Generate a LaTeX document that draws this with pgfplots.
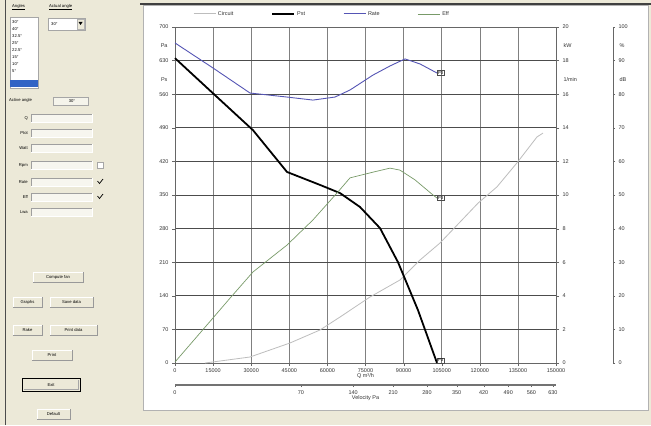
\documentclass[border=0pt]{standalone}
\usepackage{pgfplots}
\pgfplotsset{compat=1.18}
\usepackage{fontspec}
\setmainfont{Liberation Sans}
\definecolor{uibg}{HTML}{ECE9D8}
\definecolor{bluec}{HTML}{5555B5}
\definecolor{greenc}{HTML}{789A68}
\definecolor{greyc}{HTML}{BDBDBD}
\definecolor{hilite}{HTML}{3163C5}
\newcommand\tl{\fontsize{5.5}{6.5}\selectfont}
\newcommand\ui{\fontsize{4.2}{4.7}\selectfont}
\begin{document}
\begin{tikzpicture}[x=1bp,y=1bp]
\useasboundingbox (0,0) rectangle (651,425);
\fill[uibg] (0,0) rectangle (651,425);
% chart panel
\fill[white] (143,15) rectangle (648,420);
\draw[gray!60, line width=1] (143,15) rectangle (648,420);
\draw[black!75, line width=1.5] (140,421) -- (651,421);
\draw[black!70, line width=1] (5,0) -- (5,425);
% ---------- left control panel ----------
\node[font=\ui, anchor=west, inner sep=0] at (12,418) {\underline{Angles}};
\node[font=\ui, anchor=west, inner sep=0] at (49,418) {\underline{Actual angle}};
\draw[gray!70, fill=white] (10,337) rectangle (38,408);
\foreach \t [count=\i] in {30°,40°,32.5°,25°,22.5°,15°,10°,5°}
  \node[font=\ui, anchor=west, inner sep=0] at (12,410-7*\i) {\t};
\fill[hilite] (10,338) rectangle (38,345);
\draw[gray!70, fill=white] (48,395) rectangle (85,407);
\node[font=\ui, anchor=west, inner sep=0] at (51,401) {30°};
\draw[gray!60, fill=uibg] (77,396) rectangle (84,406);
\fill[black] (78.5,403) -- (82.5,403) -- (80.5,400) -- cycle;
\node[font=\ui, anchor=west, inner sep=0] at (9,325) {Active angle};
\draw[gray!70, fill=uibg!50!white] (53,320) rectangle (88,328);
\node[font=\ui, inner sep=0] at (72,324) {30°};
\foreach \t/\yy in {Q/307,Ptot/292,Watt/277,Rpm/260,Rate/243,Eff/228,Lwa/213}{
  \node[font=\ui, anchor=east, inner sep=0] at (28,\yy) {\t};
  \fill[uibg!40!white] (31,\yy-4) rectangle (92,\yy+4);
  \draw[gray!75] (31,\yy-4) -- (31,\yy+4) -- (92,\yy+4);
  \draw[white] (31,\yy-4) -- (92,\yy-4) -- (92,\yy+4);
}
\draw[gray!70, fill=white] (97,257) rectangle (103,263);
\draw[black, line width=0.7] (97.5,244) -- (99.5,241.5) -- (103,246);
\draw[black, line width=0.7] (97.5,229) -- (99.5,226.5) -- (103,231);
\foreach \t/\xa/\ya/\xb/\yb in {Compute fan/33/143/83/153, Graphs/13/118/42/128, Save data/50/118/93/128, Rake/13/90/42/100, Print data/50/90/97/100, Print/32/65/72/75, Default/37/6/70/16}{
  \fill[uibg] (\xa,\ya) rectangle (\xb,\yb);
  \draw[white] (\xa,\ya) -- (\xa,\yb) -- (\xb,\yb);
  \draw[gray!80] (\xa,\ya) -- (\xb,\ya) -- (\xb,\yb);
  \node[font=\ui, inner sep=0] at ({(\xa+\xb)/2},{(\ya+\yb)/2}) {\t};
}
\draw[black, line width=0.8, fill=uibg] (22,34) rectangle (80,47);
\draw[gray!70] (24,36) -- (78,36) -- (78,45);
\node[font=\ui, inner sep=0] at (51,40.5) {Exit};
% ---------- main axis: pressure (Pa) ----------
\begin{axis}[
  at={(175bp,62bp)}, anchor=south west, scale only axis,
  width=381bp, height=336bp,
  xmin=0, xmax=150000, ymin=0, ymax=700,
  xtick distance=15000, ytick distance=70,
  scaled x ticks=false,
  /pgf/number format/.cd, 1000 sep={}, fixed, assume math mode=true, /pgfplots/.cd,
  grid=major,
  x grid style={black!50, line width=0.6pt},
  y grid style={black!70, line width=0.9pt},
  axis line style={black!60, line width=0.7pt},
  tick style={black!60},
  xtick pos=lower, ytick pos=left,
  tick align=outside, major tick length=3bp,
  tick label style={font=\tl, text=black!80},
  xticklabel style={yshift=1bp},
  xlabel={Q m³/h}, xlabel style={font=\tl, text=black!80, yshift=6bp},
  clip=false,
  legend columns=4,
  legend image code/.code={\draw[#1] (0bp,0bp) -- (22bp,0bp);},
  legend style={at={(0.047,1.039)}, anchor=west, draw=none, fill=none,
    font=\tl, text=black!80, inner sep=0pt,
    /tikz/every even column/.append style={column sep=36bp}},
]
\addplot[greyc, line width=0.8pt] coordinates {
(11811,0) (29528,12.5) (45276,41.7) (57087,68.8) (64961,95.8) (76772,137.5)
(88583,173) (96457,214.6) (104331,250) (112992,298) (119291,333)
(126772,367) (134646,417) (142520,471) (144882,479)};
\addplot[black, line width=1.8pt] coordinates {
(0,635) (15748,558) (30709,485) (44094,398) (57087,371) (64961,354)
(72835,325) (80709,281) (87795,210) (95669,110) (103150,0)};
\addlegendimage{bluec, line width=0.9pt}
\addlegendimage{greenc, line width=0.7pt}
\legend{Circuit, Pst, Rate, Eff}
\node[draw=black!70, font=\ui, inner sep=1pt, anchor=south west] at (axis cs:103150,0) {P3};
\node[font=\tl, text=black!80, anchor=east, xshift=-4bp] at (rel axis cs:0,0.946) {Pa};
\node[font=\tl, text=black!80, anchor=east, xshift=-4bp] at (rel axis cs:0,0.843) {Ps};
\end{axis}
% ---------- right axis (0-20) ----------
\begin{axis}[
  at={(175bp,62bp)}, anchor=south west, scale only axis,
  width=381bp, height=336bp,
  xmin=0, xmax=150000, ymin=0, ymax=20,
  ytick distance=2,
  hide x axis, axis y line*=right,
  /pgf/number format/assume math mode=true,
  axis line style={black!60, line width=0.7pt},
  tick style={black!60}, tick align=outside, major tick length=3bp,
  tick label style={font=\tl, text=black!80},
  clip=false,
]
\addplot[bluec, line width=0.9pt] coordinates {
(0,19.05) (14961,17.56) (29528,16.07) (44094,15.83) (54331,15.65)
(62992,15.83) (68898,16.25) (77953,17.14) (84646,17.68) (90551,18.10)
(96457,17.80) (103150,17.26)};
\node[draw=black!70, font=\ui, inner sep=1pt, anchor=west] at (axis cs:103150,17.26) {P3};
\node[font=\tl, text=black!80, anchor=west, xshift=4bp] at (rel axis cs:1,0.946) {kW};
\node[font=\tl, text=black!80, anchor=west, xshift=4bp] at (rel axis cs:1,0.843) {1/min};
\end{axis}
% ---------- efficiency (0-100 %) curve ----------
\begin{axis}[
  at={(175bp,62bp)}, anchor=south west, scale only axis,
  width=381bp, height=336bp,
  xmin=0, xmax=150000, ymin=0, ymax=100, hide axis, clip=false,
]
\addplot[greenc, line width=0.7pt] coordinates {
(0,0.3) (14961,13.4) (21654,19.3) (30709,27.1) (44094,35.1) (54331,42.6)
(63780,50.6) (68898,55.1) (77953,56.8) (84646,58.0) (88583,57.4)
(94488,54.5) (101575,50.0) (103150,49.1)};
\node[draw=black!70, font=\ui, inner sep=1pt, anchor=west] at (axis cs:103150,49.1) {P3};
\end{axis}
% ---------- far right scale (0-100) ----------
\begin{axis}[
  at={(613bp,62bp)}, anchor=south east, scale only axis,
  width=1bp, height=336bp,
  xmin=0, xmax=1, ymin=0, ymax=100, ytick distance=10,
  hide x axis, axis y line*=right,
  /pgf/number format/assume math mode=true,
  axis line style={black!60, line width=0.7pt},
  tick style={black!60}, tick align=outside, major tick length=2bp,
  tick label style={font=\tl, text=black!80},
  clip=false,
]
\node[font=\tl, text=black!80, anchor=west, xshift=3bp] at (rel axis cs:1,0.946) {\%};
\node[font=\tl, text=black!80, anchor=west, xshift=3bp] at (rel axis cs:1,0.843) {dB};
\end{axis}
% ---------- velocity pressure scale ----------
\begin{axis}[
  at={(175bp,40bp)}, anchor=south west, scale only axis,
  width=381bp, height=1bp,
  xmin=0, xmax=150000, ymin=0, ymax=1,
  scaled x ticks=false,
  hide y axis, axis x line*=bottom,
  xtick={0,49600,70140,85900,99200,110900,121500,131200,140300,148800},
  xticklabels={0,70,140,210,280,350,420,490,560,630},
  axis line style={black!55, line width=1.5pt},
  tick style={black!60}, tick align=outside, major tick length=2bp,
  tick label style={font=\tl, text=black!80},
  xlabel={Velocity Pa}, xlabel style={font=\tl, text=black!80, yshift=6bp},
]
\end{axis}
\end{tikzpicture}
\end{document}
